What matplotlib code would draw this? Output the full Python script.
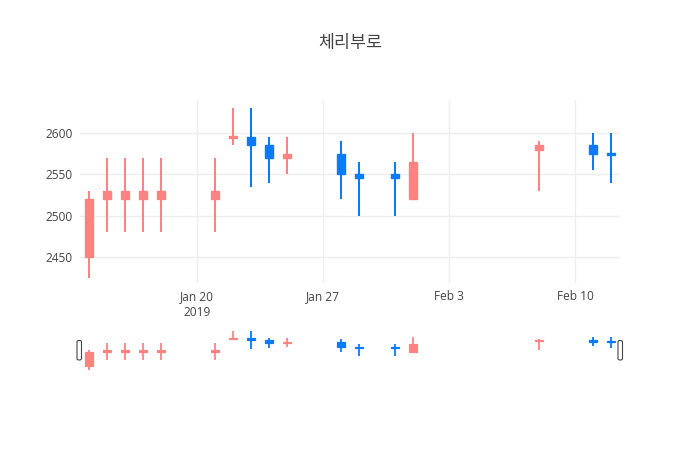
import matplotlib
matplotlib.use("Agg")
import matplotlib.pyplot as plt
import matplotlib.dates as mdates
from matplotlib.patches import FancyBboxPatch
import numpy as np
import datetime as dt

# daily prices
dates = ["2019-01-14", "2019-01-15", "2019-01-16", "2019-01-17", "2019-01-18",
         "2019-01-21", "2019-01-22", "2019-01-23", "2019-01-24", "2019-01-25",
         "2019-01-28", "2019-01-29", "2019-01-31", "2019-02-01",
         "2019-02-08", "2019-02-11", "2019-02-12"]
opens  = [2450, 2520, 2520, 2520, 2520, 2520, 2595, 2595, 2585, 2570,
          2575, 2550, 2550, 2520, 2580, 2585, 2575]
highs  = [2530, 2570, 2570, 2570, 2570, 2570, 2630, 2630, 2595, 2595,
          2590, 2565, 2565, 2600, 2590, 2600, 2600]
lows   = [2425, 2480, 2480, 2480, 2480, 2480, 2585, 2535, 2540, 2550,
          2520, 2500, 2500, 2520, 2530, 2555, 2540]
closes = [2520, 2530, 2530, 2530, 2530, 2530, 2595, 2585, 2570, 2575,
          2550, 2545, 2545, 2565, 2585, 2575, 2575]

title = "체리부로"
up_color = "#FF8282"
down_color = "#0A7BFF"
text_color = "#444444"
grid_color = "#EEEEEE"

x = mdates.date2num([dt.datetime.strptime(d, "%Y-%m-%d") for d in dates])

# plotly style direction: ties fall back to previous close
colors = []
prev_dir = up_color
for i in range(len(x)):
    if closes[i] > opens[i]:
        c = up_color
    elif closes[i] < opens[i]:
        c = down_color
    elif i > 0 and closes[i] > closes[i - 1]:
        c = up_color
    elif i > 0 and closes[i] < closes[i - 1]:
        c = down_color
    else:
        c = prev_dir
    colors.append(c)
    prev_dir = c

W, H = 700, 450
fig = plt.figure(figsize=(7, 4.5), dpi=100)

ax = fig.add_axes([80 / W, 1 - 283 / H, 540 / W, 183 / H])
sl = fig.add_axes([80 / W, 1 - 371.5 / H, 540 / W, 42 / H])

xlim = (mdates.date2num(dt.datetime(2019, 1, 13, 12)),
        mdates.date2num(dt.datetime(2019, 2, 12, 12)))
ylim = (2418.5, 2640)


def draw_candles(a, wick_lw, body_lw, min_h):
    o = np.array(opens, dtype=float)
    c = np.array(closes, dtype=float)
    heights = np.maximum(np.abs(c - o), min_h)
    bottoms = (o + c) / 2 - heights / 2
    a.vlines(x, lows, highs, colors=colors, linewidth=wick_lw, zorder=2)
    a.bar(x, heights, bottom=bottoms, width=0.48, color=colors,
          edgecolor=colors, linewidth=body_lw, zorder=3)
    a.set_xlim(*xlim)
    a.set_ylim(*ylim)
    for s in a.spines.values():
        s.set_visible(False)


draw_candles(ax, 1.45, 1.0, 2.0)
draw_candles(sl, 1.3, 0.9, 5.0)

ax.set_yticks([2450, 2500, 2550, 2600])
ax.grid(True, color=grid_color, linewidth=1)
ax.set_axisbelow(True)
tick_dates = [dt.datetime(2019, 1, 20), dt.datetime(2019, 1, 27),
              dt.datetime(2019, 2, 3), dt.datetime(2019, 2, 10)]
tick_labels = ["Jan 20\n2019", "Jan 27", "Feb 3", "Feb 10"]
ax.set_xticks(mdates.date2num(tick_dates))
ax.set_xticklabels(tick_labels, linespacing=1.35, va="top")
ax.tick_params(length=0, labelsize=8.6, labelcolor=text_color, pad=5)
for lab in ax.get_xticklabels() + ax.get_yticklabels():
    lab.set_family("Open Sans")

sl.set_xticks([])
sl.set_yticks([])

# range slider handles
for hx in (77, 618):
    fig.patches.append(FancyBboxPatch(
        (hx / W, 1 - 360 / H), 4.5 / W, 19.5 / H,
        boxstyle="round,pad=0,rounding_size=0.003",
        transform=fig.transFigure, facecolor="white",
        edgecolor="#444444", linewidth=0.8, zorder=5))

fig.text(0.5, 1 - 43 / H, title, ha="center", va="center", fontsize=12.5,
         color=text_color, family=["Noto Sans CJK KR", "DejaVu Sans"])

fig.savefig("out.png", dpi=100, facecolor="white")
